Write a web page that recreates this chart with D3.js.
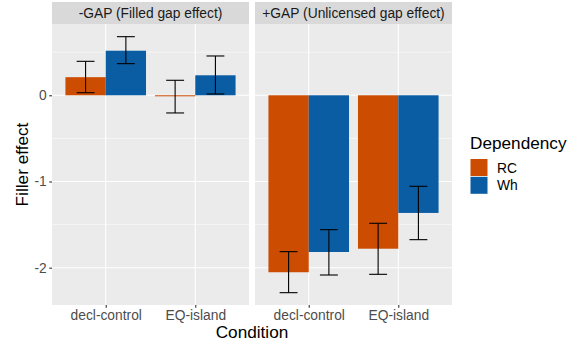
<!DOCTYPE html>
<html>
<head>
<meta charset="utf-8">
<script src="https://cdn.jsdelivr.net/npm/d3@7"></script>
<style>
  body { margin: 0; background: #fff; }
  #chart { width: 572px; height: 347px; }
</style>
</head>
<body>
<div id="chart"></div>
<script>
const facets = ["-GAP (Filled gap effect)", "+GAP (Unlicensed gap effect)"];
const conditions = ["decl-control", "EQ-island"];
const dependencies = ["RC", "Wh"];
const yTicks = [0, -1, -2];

// values per facet, [condition][dependency]
const effectNoGap = [[0.21, 0.517], [-0.01, 0.232]];
const lowerNoGap = [[0.03, 0.367], [-0.205, 0.015]];
const upperNoGap = [[0.394, 0.68], [0.174, 0.456]];

const effectGap = [[-2.053, -1.818], [-1.78, -1.365]];
const lowerGap = [[-2.29, -2.085], [-2.077, -1.675]];
const upperGap = [[-1.814, -1.559], [-1.485, -1.056]];

const effects = [effectNoGap, effectGap];
const lowers = [lowerNoGap, lowerGap];
const uppers = [upperNoGap, upperGap];

const depColors = { "RC": "#CC4C02", "Wh": "#0A5DA3" };

function renderChart(selector = "#chart") {
    const width = 572, height = 347;
    const font = "'Liberation Sans', Arial, Helvetica, sans-serif";
    const small = "13.8px", big = "17.2px";
    const panelTop = 24, panelBottom = 305, stripTop = 2;
    const panelX = [[52, 249], [255, 452]];

    const svg = d3.select(selector).append("svg")
        .attr("width", width).attr("height", height)
        .style("font-family", font);

    const y = d3.scaleLinear()
        .domain([-2.433, 0.827])
        .range([panelBottom, panelTop]);

    facets.forEach((facet, fi) => {
        const [x0, x1] = panelX[fi];
        const x = d3.scalePoint().domain(conditions).range([x0, x1]).padding(0.6);
        const unit = x.step();
        const sub = d3.scaleBand().domain(dependencies).range([-0.45 * unit, 0.45 * unit]);

        const g = svg.append("g");
        g.append("rect")
            .attr("x", x0).attr("y", panelTop)
            .attr("width", x1 - x0).attr("height", panelBottom - panelTop)
            .attr("fill", "#EBEBEB");

        // minor grid
        [0.5, -0.5, -1.5].forEach(v => {
            g.append("line")
                .attr("x1", x0).attr("x2", x1)
                .attr("y1", y(v)).attr("y2", y(v))
                .attr("stroke", "#fff").attr("stroke-width", 0.55);
        });
        yTicks.forEach(v => {
            g.append("line")
                .attr("x1", x0).attr("x2", x1)
                .attr("y1", y(v)).attr("y2", y(v))
                .attr("stroke", "#fff").attr("stroke-width", 1.1);
        });
        conditions.forEach(c => {
            g.append("line")
                .attr("x1", x(c)).attr("x2", x(c))
                .attr("y1", panelTop).attr("y2", panelBottom)
                .attr("stroke", "#fff").attr("stroke-width", 1.1);
        });

        // strip
        g.append("rect")
            .attr("x", x0).attr("y", stripTop)
            .attr("width", x1 - x0).attr("height", panelTop - stripTop)
            .attr("fill", "#D9D9D9");
        g.append("text")
            .attr("x", (x0 + x1) / 2).attr("y", 18)
            .attr("text-anchor", "middle")
            .attr("fill", "#1A1A1A")
            .style("font-size", small)
            .text(facet);

        // bars + error bars
        conditions.forEach((c, ci) => {
            dependencies.forEach((d, di) => {
                const v = effects[fi][ci][di];
                const bx = x(c) + sub(d);
                g.append("rect")
                    .attr("x", bx).attr("width", sub.bandwidth())
                    .attr("y", y(Math.max(0, v)))
                    .attr("height", Math.max(1, Math.abs(y(v) - y(0))))
                    .attr("fill", depColors[d]);
                const cx = bx + sub.bandwidth() / 2;
                const cap = 0.1 * unit;
                const lo = y(lowers[fi][ci][di]), hi = y(uppers[fi][ci][di]);
                const eb = g.append("g").attr("stroke", "#000").attr("stroke-width", 1.1);
                eb.append("line").attr("x1", cx).attr("x2", cx).attr("y1", lo).attr("y2", hi);
                eb.append("line").attr("x1", cx - cap).attr("x2", cx + cap).attr("y1", lo).attr("y2", lo);
                eb.append("line").attr("x1", cx - cap).attr("x2", cx + cap).attr("y1", hi).attr("y2", hi);
            });
        });

        // x axis
        const xa = g.append("g")
            .attr("transform", `translate(0,${panelBottom})`)
            .call(d3.axisBottom(x).tickSize(2.8).tickPadding(2.5));
        xa.select(".domain").remove();
        xa.selectAll(".tick line").attr("stroke", "#333").attr("stroke-width", 1.1);
        xa.selectAll("text")
            .attr("fill", "#4D4D4D")
            .style("font-size", small)
            .style("font-family", font);
    });

    // y axis
    const ya = svg.append("g")
        .attr("transform", `translate(${panelX[0][0]},0)`)
        .call(d3.axisLeft(y).tickValues(yTicks).tickSize(2.8).tickPadding(2.5)
            .tickFormat(d => String(d)));
    ya.select(".domain").remove();
    ya.selectAll(".tick line").attr("stroke", "#333").attr("stroke-width", 1.1);
    ya.selectAll("text")
        .attr("fill", "#4D4D4D")
        .style("font-size", small)
        .style("font-family", font);

    // axis titles
    svg.append("text")
        .attr("x", (panelX[0][0] + panelX[1][1]) / 2).attr("y", 338)
        .attr("text-anchor", "middle")
        .style("font-size", big)
        .text("Condition");
    svg.append("text")
        .attr("transform", `translate(28,${(panelTop + panelBottom) / 2}) rotate(-90)`)
        .attr("text-anchor", "middle")
        .style("font-size", big)
        .text("Filler effect");

    // legend
    const legend = svg.append("g").attr("transform", "translate(470,0)");
    legend.append("text")
        .attr("x", 0).attr("y", 149)
        .style("font-size", big)
        .text("Dependency");
    dependencies.forEach((d, i) => {
        const ky = 159 + i * 17.8;
        legend.append("rect")
            .attr("x", 0.5).attr("y", ky)
            .attr("width", 17).attr("height", 17)
            .attr("fill", depColors[d]);
        legend.append("text")
            .attr("x", 27).attr("y", ky + 13.5)
            .style("font-size", small)
            .text(d);
    });
}

renderChart();
</script>
</body>
</html>
